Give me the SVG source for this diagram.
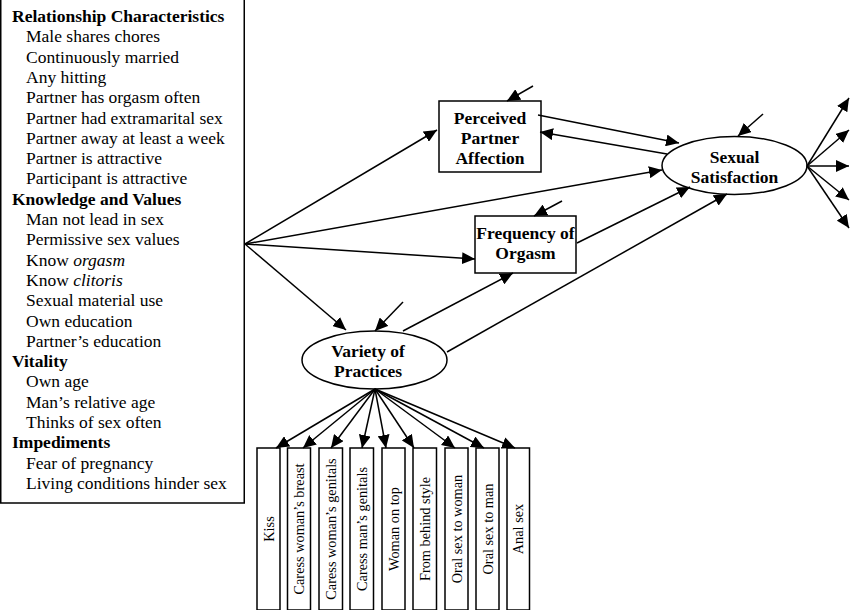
<svg xmlns="http://www.w3.org/2000/svg" width="850" height="610" viewBox="0 0 850 610">
<style>
text{font-family:"Liberation Serif","Times New Roman",serif;fill:#000}
.h{font-weight:bold;font-size:17.5px}
.i{font-size:17.5px}
.n{font-weight:bold;font-size:17.5px;text-anchor:middle}
.v{font-size:14.3px;text-anchor:middle}
.box{fill:#fff;stroke:#000;stroke-width:1.5}
.e{stroke:#000;stroke-width:1.5;fill:none;marker-end:url(#ah)}
</style>
<defs>
<marker id="ah" markerUnits="userSpaceOnUse" markerWidth="14" markerHeight="12" refX="13" refY="6" orient="auto">
<path d="M0,0 L13,6 L0,12 z" fill="#000"/>
</marker>
</defs>
<rect width="850" height="610" fill="#fff"/>
<g id="predictors">
<rect class="box" x="0.75" y="-2" width="243.5" height="505"/>
<text class="h" x="12" y="22">Relationship Characteristics</text>
<text class="i" x="26" y="42.3">Male shares chores</text>
<text class="i" x="26" y="62.6">Continuously married</text>
<text class="i" x="26" y="82.9">Any hitting</text>
<text class="i" x="26" y="103.2">Partner has orgasm often</text>
<text class="i" x="26" y="123.5">Partner had extramarital sex</text>
<text class="i" x="26" y="143.8">Partner away at least a week</text>
<text class="i" x="26" y="164.1">Partner is attractive</text>
<text class="i" x="26" y="184.4">Participant is attractive</text>
<text class="h" x="12" y="204.7">Knowledge and Values</text>
<text class="i" x="26" y="225">Man not lead in sex</text>
<text class="i" x="26" y="245.3">Permissive sex values</text>
<text class="i" x="26" y="265.6">Know <tspan font-style="italic">orgasm</tspan></text>
<text class="i" x="26" y="285.9">Know <tspan font-style="italic">clitoris</tspan></text>
<text class="i" x="26" y="306.2">Sexual material use</text>
<text class="i" x="26" y="326.5">Own education</text>
<text class="i" x="26" y="346.8">Partner’s  education</text>
<text class="h" x="12" y="367.1">Vitality</text>
<text class="i" x="26" y="387.4">Own age</text>
<text class="i" x="26" y="407.7">Man’s  relative age</text>
<text class="i" x="26" y="428">Thinks of sex often</text>
<text class="h" x="12" y="448.3">Impediments</text>
<text class="i" x="26" y="468.6">Fear of pregnancy</text>
<text class="i" x="26" y="488.9">Living conditions hinder sex</text>
</g>
<g id="perceived-partner-affection">
<rect class="box" x="439" y="101" width="102" height="71"/>
<text class="n" x="490" y="124">Perceived</text>
<text class="n" x="490" y="144">Partner</text>
<text class="n" x="490" y="164">Affection</text>
</g>
<g id="frequency-of-orgasm">
<rect class="box" x="475" y="216" width="101" height="57"/>
<text class="n" x="525.5" y="239">Frequency of</text>
<text class="n" x="525.5" y="259">Orgasm</text>
</g>
<g id="sexual-satisfaction">
<ellipse class="box" cx="734.5" cy="165.5" rx="72.5" ry="29"/>
<text class="n" x="734.5" y="163">Sexual</text>
<text class="n" x="734.5" y="183">Satisfaction</text>
</g>
<g id="variety-of-practices">
<ellipse class="box" cx="374.5" cy="360" rx="72.5" ry="29"/>
<text class="n" x="368" y="357">Variety of</text>
<text class="n" x="368" y="377">Practices</text>
</g>
<g id="practices">
<g id="kiss"><rect class="box" x="257" y="448" width="23" height="162"/><text class="v" transform="translate(273.5,529) rotate(-90)">Kiss</text></g>
<g id="caress-breast"><rect class="box" x="287.5" y="448" width="23" height="162"/><text class="v" transform="translate(304,529) rotate(-90)">Caress woman’s breast</text></g>
<g id="caress-woman-genitals"><rect class="box" x="319" y="448" width="23.5" height="162"/><text class="v" transform="translate(335.5,529) rotate(-90)">Caress woman’s genitals</text></g>
<g id="caress-man-genitals"><rect class="box" x="350" y="448" width="23.5" height="162"/><text class="v" transform="translate(367,529) rotate(-90)">Caress man’s genitals</text></g>
<g id="woman-on-top"><rect class="box" x="382" y="448" width="23" height="162"/><text class="v" transform="translate(398.5,529) rotate(-90)">Woman on top</text></g>
<g id="from-behind"><rect class="box" x="413" y="448" width="23.5" height="162"/><text class="v" transform="translate(430,529) rotate(-90)">From behind style</text></g>
<g id="oral-to-woman"><rect class="box" x="445" y="448" width="23" height="162"/><text class="v" transform="translate(461.5,529) rotate(-90)">Oral sex to woman</text></g>
<g id="oral-to-man"><rect class="box" x="476" y="448" width="23" height="162"/><text class="v" transform="translate(492.5,529) rotate(-90)">Oral sex to man</text></g>
<g id="anal-sex"><rect class="box" x="507" y="448" width="22.5" height="162"/><text class="v" transform="translate(523,529) rotate(-90)">Anal sex</text></g>
</g>
<g id="connectors">
<line class="e" x1="245" y1="244" x2="437" y2="130"/>
<line class="e" x1="245" y1="244" x2="662" y2="170"/>
<line class="e" x1="245" y1="244" x2="475" y2="259"/>
<line class="e" x1="245" y1="244" x2="346" y2="330"/>
<line class="e" x1="538" y1="115" x2="679" y2="143"/>
<line class="e" x1="667" y1="154" x2="540" y2="132"/>
<line class="e" x1="577" y1="243" x2="690" y2="187"/>
<line class="e" x1="403" y1="331" x2="513" y2="273"/>
<line class="e" x1="447" y1="352" x2="727" y2="194"/>
<line class="e" x1="533" y1="86" x2="507" y2="101"/>
<line class="e" x1="763" y1="114" x2="738" y2="136"/>
<line class="e" x1="562" y1="201" x2="534" y2="216"/>
<line class="e" x1="403" y1="302" x2="375" y2="331"/>
<line class="e" x1="807" y1="166" x2="849" y2="98"/>
<line class="e" x1="807" y1="166" x2="849" y2="130"/>
<line class="e" x1="807" y1="166" x2="849" y2="166"/>
<line class="e" x1="807" y1="166" x2="849" y2="200"/>
<line class="e" x1="807" y1="166" x2="849" y2="228"/>
<line class="e" x1="375" y1="389" x2="276" y2="448"/>
<line class="e" x1="375" y1="389" x2="303" y2="448"/>
<line class="e" x1="375" y1="389" x2="331" y2="448"/>
<line class="e" x1="375" y1="389" x2="362" y2="448"/>
<line class="e" x1="375" y1="389" x2="386" y2="448"/>
<line class="e" x1="375" y1="389" x2="414" y2="448"/>
<line class="e" x1="375" y1="389" x2="455" y2="448"/>
<line class="e" x1="375" y1="389" x2="484" y2="448"/>
<line class="e" x1="375" y1="389" x2="515" y2="448"/>
</g>
</svg>
